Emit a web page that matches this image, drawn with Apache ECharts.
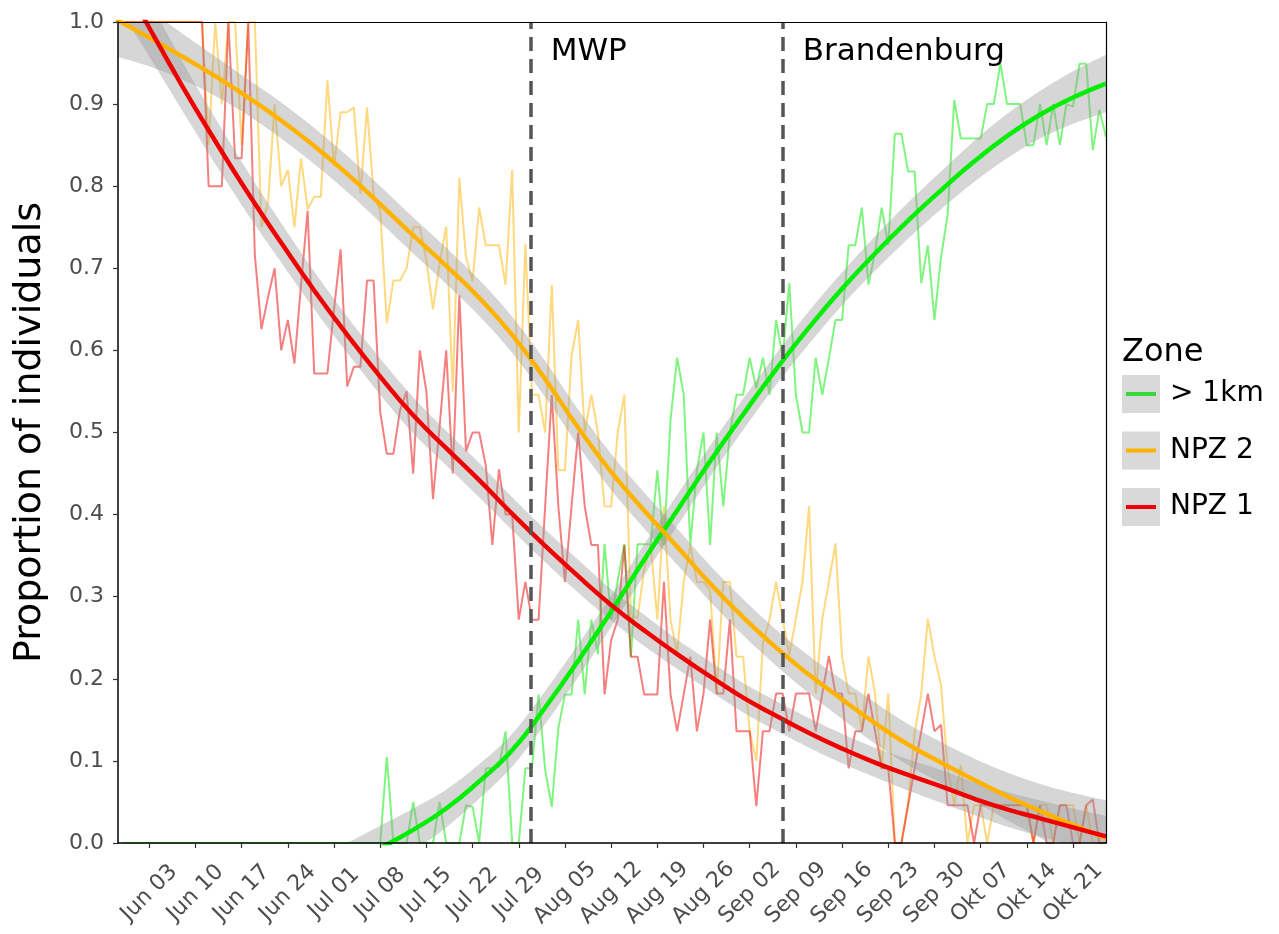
<!DOCTYPE html>
<html>
<head>
<meta charset="utf-8">
<script src="https://cdn.jsdelivr.net/npm/echarts@6/dist/echarts.min.js"></script>
<style>
  html, body { margin: 0; padding: 0; background: #fff; }
  #chart { width: 1279px; height: 934px; }
</style>
</head>
<body>
<div id="chart"></div>
<script>
// x = days after Jun 03
const xMin = -4.74
const xMax = 145.0
const dayStart = -4

const tickDays = [0, 7, 14, 21, 28, 35, 42, 49, 56, 63, 70, 77, 84, 91, 98, 105, 112, 119, 126, 133, 140]
const tickLabels = ['Jun 03', 'Jun 10', 'Jun 17', 'Jun 24', 'Jul 01', 'Jul 08', 'Jul 15', 'Jul 22', 'Jul 29',
  'Aug 05', 'Aug 12', 'Aug 19', 'Aug 26', 'Sep 02', 'Sep 09', 'Sep 16', 'Sep 23', 'Sep 30',
  'Okt 07', 'Okt 14', 'Okt 21']

const eventDays = [57.8, 96.0]
const eventLabels = ['MWP', 'Brandenburg']

// daily proportions, day -4 .. 145
const npz1Daily = [
  1, 1, 1, 1, 1, 1, 1, 1, 1, 1, 1, 1, 1,
  0.80, 0.80, 0.80, 1, 0.834, 0.834, 1,
  0.716, 0.626, 0.665, 0.70, 0.60, 0.637, 0.584,
  0.68, 0.77, 0.572, 0.572, 0.572, 0.65, 0.723,
  0.556, 0.58, 0.58, 0.685, 0.685, 0.525, 0.474,
  0.474, 0.527, 0.55, 0.45, 0.60, 0.55, 0.419,
  0.507, 0.60, 0.45, 0.667, 0.477, 0.50, 0.50,
  0.46, 0.363, 0.455, 0.40, 0.40, 0.272, 0.318,
  0.272, 0.272, 0.41, 0.546, 0.41, 0.318, 0.41,
  0.50, 0.41, 0.363, 0.363, 0.181, 0.247, 0.272,
  0.363, 0.227, 0.227, 0.181, 0.181, 0.181, 0.318,
  0.181, 0.136, 0.181, 0.227, 0.136, 0.182, 0.272,
  0.182, 0.182, 0.272, 0.136, 0.136, 0.136, 0.045,
  0.136, 0.136, 0.182, 0.182, 0.136, 0.182, 0.182,
  0.182, 0.136, 0.182, 0.228, 0.182, 0.182, 0.091,
  0.136, 0.136, 0.182, 0.136, 0.091, 0.091, 0,
  0, 0.046, 0.091, 0.136, 0.182, 0.136, 0.144,
  0.046, 0.046, 0.046, 0.046, 0, 0.046, 0.046,
  0.046, 0.046, 0.046, 0.046, 0.046, 0.046, 0,
  0.046, 0, 0, 0.046, 0.046, 0, 0,
  0.046, 0.053, 0, 0
]

const npz2Daily = [
  1, 1, 1, 1, 1, 1, 1, 1, 1, 1, 1, 1, 1,
  0.85, 1, 0.9, 1, 1, 0.85, 1, 1,
  0.75, 0.78, 0.90, 0.80, 0.82, 0.75, 0.834,
  0.772, 0.787, 0.787, 0.929, 0.824, 0.89, 0.89,
  0.896, 0.791, 0.896, 0.79, 0.77, 0.633, 0.685,
  0.685, 0.70, 0.75, 0.75, 0.71, 0.65, 0.706,
  0.751, 0.55, 0.81, 0.714, 0.684, 0.774, 0.728,
  0.728, 0.728, 0.68, 0.82, 0.50, 0.73, 0.546,
  0.546, 0.50, 0.68, 0.454, 0.454, 0.593, 0.637,
  0.50, 0.546, 0.50, 0.41, 0.41, 0.50, 0.546,
  0.276, 0.274, 0.333, 0.363, 0.272, 0.41, 0.272,
  0.231, 0.318, 0.363, 0.318, 0.318, 0.308, 0.182,
  0.318, 0.318, 0.227, 0.227, 0.136, 0.10, 0.243,
  0.272, 0.318, 0.272, 0.229, 0.273, 0.318, 0.41,
  0.182, 0.273, 0.318, 0.365, 0.227, 0.182, 0.182,
  0.138, 0.227, 0.182, 0.091, 0.182, 0, 0,
  0.048, 0.134, 0.182, 0.273, 0.227, 0.192, 0.091,
  0.046, 0.095, 0, 0.046, 0.046, 0, 0.046,
  0.046, 0.046, 0.046, 0.046, 0.046, 0, 0.046,
  0.046, 0, 0.046, 0.046, 0.046, 0, 0.046,
  0, 0, 0
]

const farDaily = [
  0, 0, 0, 0, 0, 0, 0, 0, 0, 0, 0, 0, 0, 0, 0, 0, 0, 0, 0, 0,
  0, 0, 0, 0, 0, 0, 0, 0, 0, 0, 0, 0, 0, 0, 0, 0, 0, 0, 0,
  0, 0.105, 0, 0, 0, 0.05, 0,
  0, 0, 0.05, 0, 0, 0, 0.046,
  0.044, 0, 0.091, 0.091, 0.093, 0.136, 0,
  0, 0.091, 0.091, 0.181, 0.089, 0.044, 0.14,
  0.181, 0.181, 0.272, 0.181, 0.272, 0.23, 0.364,
  0.272, 0.32, 0.364, 0.227, 0.364, 0.364, 0.364,
  0.454, 0.363, 0.515, 0.591, 0.546, 0.363, 0.454,
  0.50, 0.363, 0.50, 0.41, 0.50, 0.546, 0.546,
  0.591, 0.554, 0.591, 0.546, 0.637, 0.592, 0.682,
  0.546, 0.50, 0.50, 0.591, 0.546, 0.59, 0.637,
  0.637, 0.728, 0.728, 0.774, 0.68, 0.72, 0.774,
  0.728, 0.864, 0.864, 0.818, 0.818, 0.682, 0.728,
  0.637, 0.714, 0.765, 0.905, 0.858, 0.858, 0.858,
  0.858, 0.90, 0.90, 0.95, 0.90, 0.90, 0.90,
  0.85, 0.85, 0.90, 0.85, 0.90, 0.85, 0.90,
  0.897, 0.949, 0.949, 0.844, 0.893, 0.86
]

// fitted curves and their confidence bands, read every 5 days
const fitDays = [-5, 0, 5, 10, 15, 20, 25, 30, 35, 40, 45, 50, 55, 60, 65, 70, 75,
  80, 85, 90, 95, 100, 105, 110, 115, 120, 125, 130, 135, 140, 145]
const npz1Fit = [1.067, 0.993, 0.922, 0.855, 0.791, 0.731, 0.673, 0.619, 0.568, 0.521, 0.481,
  0.442, 0.401, 0.362, 0.325, 0.29, 0.259, 0.23, 0.203, 0.177, 0.155, 0.134, 0.115,
  0.098, 0.083, 0.069, 0.054, 0.041, 0.03, 0.019, 0.008]
const npz1Lo = [1.022, 0.958, 0.892, 0.827, 0.765, 0.707, 0.65, 0.597, 0.546, 0.499, 0.46,
  0.421, 0.381, 0.342, 0.305, 0.271, 0.24, 0.212, 0.185, 0.159, 0.137, 0.116, 0.097,
  0.08, 0.064, 0.049, 0.034, 0.02, 0.008, -0.004, -0.017]
const npz1Hi = [1.112, 1.028, 0.952, 0.883, 0.817, 0.755, 0.696, 0.641, 0.59, 0.543, 0.502,
  0.463, 0.421, 0.382, 0.345, 0.309, 0.278, 0.248, 0.221, 0.195, 0.173, 0.152, 0.133,
  0.116, 0.102, 0.089, 0.074, 0.062, 0.052, 0.042, 0.033]

const npz2Fit = [1.003, 0.981, 0.958, 0.934, 0.908, 0.88, 0.849, 0.815, 0.778, 0.74, 0.703,
  0.664, 0.619, 0.565, 0.506, 0.452, 0.405, 0.361, 0.316, 0.275, 0.238, 0.205, 0.175,
  0.146, 0.12, 0.098, 0.077, 0.057, 0.039, 0.022, 0.006]
const npz2Lo = [0.958, 0.946, 0.93, 0.91, 0.886, 0.858, 0.827, 0.793, 0.756, 0.718, 0.681,
  0.642, 0.597, 0.543, 0.484, 0.43, 0.383, 0.339, 0.294, 0.253, 0.216, 0.182, 0.151,
  0.121, 0.095, 0.073, 0.051, 0.028, 0.006, -0.017, -0.04]
const npz2Hi = [1.048, 1.016, 0.986, 0.958, 0.93, 0.902, 0.871, 0.837, 0.80, 0.762, 0.725,
  0.686, 0.641, 0.587, 0.528, 0.474, 0.427, 0.383, 0.338, 0.297, 0.26, 0.228, 0.199,
  0.171, 0.145, 0.123, 0.103, 0.086, 0.072, 0.061, 0.052]

const farFitDays = [25, 30, 35, 40, 45, 50, 55, 60, 65, 70, 75, 80, 85, 90, 95, 100,
  105, 110, 115, 120, 125, 130, 135, 140, 145]
const farFit = [-0.05, -0.027, -0.006, 0.016, 0.042, 0.075, 0.113, 0.165, 0.222, 0.282, 0.345,
  0.405, 0.465, 0.522, 0.577, 0.628, 0.675, 0.718, 0.758, 0.795, 0.83, 0.861, 0.887, 0.908, 0.925]
const farLo = [-0.09, -0.062, -0.036, -0.01, 0.019, 0.054, 0.093, 0.145, 0.202, 0.263, 0.326,
  0.386, 0.446, 0.503, 0.558, 0.608, 0.655, 0.697, 0.736, 0.772, 0.805, 0.834, 0.858, 0.876, 0.89]
const farHi = [-0.02, 0.0, 0.021, 0.042, 0.065, 0.096, 0.133, 0.185, 0.242, 0.301, 0.364,
  0.424, 0.484, 0.541, 0.596, 0.648, 0.695, 0.739, 0.78, 0.818, 0.855, 0.888, 0.916, 0.94, 0.96]

const FONT = 'DejaVu Sans'

const daily = (arr) => arr.map((v, i) => [dayStart + i, v])
const pairs = (days, arr) => days.map((d, i) => [d, arr[i]])

// catmull-rom through pixel points, so the band edges look smooth
const spline = (p) => {
  const out = []
  for (let i = 0; i < p.length - 1; i++) {
    const p0 = p[i - 1] || p[i]
    const p1 = p[i]
    const p2 = p[i + 1]
    const p3 = p[i + 2] || p[i + 1]
    for (let k = 0; k < 12; k++) {
      const t = k / 12
      const t2 = t * t
      const t3 = t2 * t
      const c = (a0, a1, a2, a3) =>
        0.5 * (2 * a1 + (-a0 + a2) * t + (2 * a0 - 5 * a1 + 4 * a2 - a3) * t2 + (-a0 + 3 * a1 - 3 * a2 + a3) * t3)
      out.push([c(p0[0], p1[0], p2[0], p3[0]), c(p0[1], p1[1], p2[1], p3[1])])
    }
  }
  out.push(p[p.length - 1])
  return out
}

const rawLine = (name, arr, color) => ({
  name: name,
  type: 'line',
  data: daily(arr),
  symbol: 'none',
  lineStyle: { color: color, width: 2 },
  z: 2,
  silent: true
})

// grey confidence ribbon drawn as one polygon
const band = (days, lo, hi) => ({
  type: 'custom',
  coordinateSystem: 'cartesian2d',
  clip: true,
  silent: true,
  z: 3,
  data: days.map((d, i) => [d, lo[i], hi[i]]),
  encode: { x: 0, y: [1, 2] },
  renderItem: (params, api) => {
    if (params.dataIndex !== 1) return null
    const top = days.map((d, i) => api.coord([d, hi[i]]))
    const bot = days.map((d, i) => api.coord([d, lo[i]]))
    return {
      type: 'polygon',
      shape: { points: spline(top).concat(spline(bot).reverse()) },
      style: { fill: 'rgba(153,153,153,0.4)' }
    }
  }
})

const fitLine = (days, arr, color) => ({
  type: 'line',
  data: pairs(days, arr),
  smooth: true,
  symbol: 'none',
  lineStyle: { color: color, width: 4.5 },
  z: 4,
  silent: true
})

const option = {
  animation: false,
  backgroundColor: '#fff',
  grid: { left: 118, right: 173, top: 22, bottom: 91 },
  xAxis: [
    {
      type: 'value',
      min: xMin,
      max: xMax,
      z: 10,
      axisLine: { show: true, onZero: false, lineStyle: { color: '#000', width: 1.5 } },
      axisTick: { show: true, customValues: tickDays, length: 5, lineStyle: { color: '#333', width: 1.2 } },
      axisLabel: {
        customValues: tickDays,
        formatter: (v) => tickLabels[tickDays.indexOf(v)],
        rotate: 45,
        align: 'center',
        verticalAlign: 'middle',
        margin: 50,
        color: '#4d4d4d',
        fontSize: 22,
        fontFamily: FONT
      },
      splitLine: { show: false }
    },
    {
      type: 'value',
      position: 'top',
      min: xMin,
      max: xMax,
      z: 10,
      axisLine: { show: true, onZero: false, lineStyle: { color: '#000', width: 1.2 } },
      axisTick: { show: false },
      axisLabel: { show: false },
      splitLine: { show: false }
    }
  ],
  yAxis: [
    {
      type: 'value',
      min: 0,
      max: 1,
      interval: 0.1,
      z: 10,
      name: 'Proportion of individuals',
      nameLocation: 'middle',
      nameGap: 69,
      nameTextStyle: { color: '#000', fontSize: 38, fontFamily: FONT },
      axisLine: { show: true, onZero: false, lineStyle: { color: '#000', width: 1.5 } },
      axisTick: { show: true, length: 5, lineStyle: { color: '#333', width: 1.2 } },
      axisLabel: {
        formatter: (v) => v.toFixed(1),
        color: '#4d4d4d',
        fontSize: 22,
        fontFamily: FONT,
        margin: 14
      },
      splitLine: { show: false }
    },
    {
      type: 'value',
      position: 'right',
      min: 0,
      max: 1,
      z: 10,
      axisLine: { show: true, onZero: false, lineStyle: { color: '#000', width: 1.2 } },
      axisTick: { show: false },
      axisLabel: { show: false },
      splitLine: { show: false }
    }
  ],
  series: [
    rawLine('> 1km', farDaily, 'rgba(0,235,0,0.5)'),
    rawLine('NPZ 2', npz2Daily, 'rgba(255,180,0,0.5)'),
    Object.assign(rawLine('NPZ 1', npz1Daily, 'rgba(235,0,0,0.5)'), {
      markLine: {
        silent: true,
        symbol: 'none',
        label: { show: false },
        lineStyle: { color: '#555', width: 3.5, type: [14, 8] },
        data: eventDays.map((d) => ({ xAxis: d }))
      }
    }),
    band(fitDays, npz1Lo, npz1Hi),
    band(fitDays, npz2Lo, npz2Hi),
    band(farFitDays, farLo, farHi),
    fitLine(farFitDays, farFit, '#00ee00'),
    fitLine(fitDays, npz2Fit, '#ffb300'),
    fitLine(fitDays, npz1Fit, '#ee0000')
  ]
}

const chart = echarts.init(document.getElementById('chart'))
chart.setOption(option)

// event labels next to the dashed lines
const eventText = eventDays.map((d, i) => ({
  type: 'text',
  x: chart.convertToPixel({ xAxisIndex: 0 }, d) + 20,
  y: 52,
  style: {
    text: eventLabels[i],
    fill: '#000',
    fontSize: 31,
    fontFamily: FONT,
    verticalAlign: 'middle'
  },
  z: 20
}))

// legend
const legendItems = [
  { label: '> 1km', color: '#3ad93a' },
  { label: 'NPZ 2', color: '#ffb300' },
  { label: 'NPZ 1', color: '#ee0000' }
]
const legend = [{
  type: 'text',
  left: 1122,
  top: 337,
  style: { text: 'Zone', fill: '#000', fontSize: 32, fontFamily: FONT },
  z: 20
}]
legendItems.forEach((it, i) => {
  const top = 375 + i * 56.5
  legend.push({ type: 'rect', shape: { x: 1122, y: top, width: 38, height: 38 }, style: { fill: '#d9d9d9' }, z: 20 })
  legend.push({
    type: 'line',
    shape: { x1: 1126, y1: top + 19, x2: 1156, y2: top + 19 },
    style: { stroke: it.color, lineWidth: 4 },
    z: 21
  })
  legend.push({
    type: 'text',
    x: 1170,
    y: top + 19,
    style: { text: it.label, fill: '#000', fontSize: 28, fontFamily: FONT, verticalAlign: 'middle' },
    z: 20
  })
})

chart.setOption({ graphic: eventText.concat(legend) })
</script>
</body>
</html>
